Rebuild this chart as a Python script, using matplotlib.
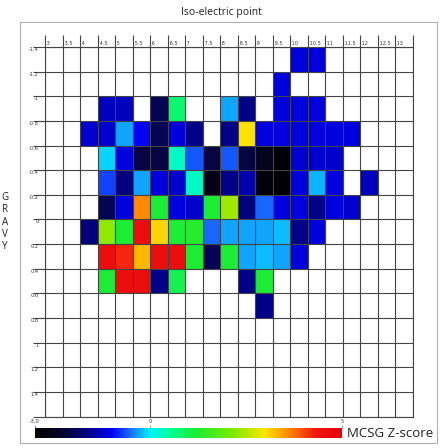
import numpy as np
import matplotlib
matplotlib.use('Agg')
import matplotlib.pyplot as plt
from matplotlib.colors import LinearSegmentedColormap, Normalize
from matplotlib.patches import Rectangle

# ---- data -------------------------------------------------------------
pi_edges = np.arange(3.0, 13.51, 0.5)              # iso-electric point bin edges
gravy_edges = np.round(np.arange(-1.4, 1.61, 0.2), 1)  # GRAVY bin edges
pi_labels = ['3', '3.5', '4', '4.5', '5', '5.5', '6', '6.5', '7', '7.5', '8',
             '8.5', '9', '9.5', '10', '10.5', '11', '11.5', '12', '12.5', '13', '']
gravy_labels = ['-1.4', '-1.2', '-1', '-0.8', '-0.6', '-0.4', '-0.2', '0',
                '0.2', '0.4', '0.6', '0.8', '1', '1.2', '1.4', '']
n = None
# MCSG Z-score per cell (rows: GRAVY bins top->bottom, cols: pI bins left->right)
row_00 = [n, n, n, n, n, n, n, n, n, n, n, n, n, n, -1.1, -1.1, n, n, n, n, n]
row_01 = [n, n, n, n, n, n, n, n, n, n, n, n, n, -1.1, n, n, n, n, n, n, n]
row_02 = [n, n, n, -1.3, -1.3, n, -2.0, 0.8, n, n, -0.3, -1.6, n, -1.1, -1.1, -1.1, n, n, n, n, n]
row_03 = [n, n, -1.2, -1.2, -0.3, -1.0, -2.0, -1.1, -1.6, n, -1.6, 3.0, -1.1, -1.1, -1.1, -1.1, -1.1, -1.1, n, n, n]
row_04 = [n, n, n, -0.1, -1.1, -2.1, -2.1, 0.3, -0.6, -2.1, -0.6, -2.1, -2.5, -2.9, -1.2, -1.2, -1.2, n, n, n, n]
row_05 = [n, n, n, -0.7, -1.7, -0.3, -1.1, -1.2, 0.3, -2.6, -1.6, -1.4, -2.8, -2.9, -1.1, -0.25, -1.1, n, -1.3, n, n]
row_06 = [n, n, n, -2.0, -1.1, 3.6, 1.2, -1.1, -1.2, 1.2, 2.4, -1.7, -0.55, -1.1, -1.1, -1.6, -1.1, -1.2, n, n, n]
row_07 = [n, n, -1.7, 2.3, 1.2, 4.6, 3.1, 1.2, 1.3, -0.55, -0.3, -0.3, -0.3, -0.2, -1.6, -1.1, n, n, n, n, n]
row_08 = [n, n, n, 4.6, 4.2, 3.3, 4.6, 4.6, 1.2, -2.0, 1.2, -0.3, -0.2, -0.3, -1.1, n, n, n, n, n, n]
row_09 = [n, n, n, 1.2, 4.6, 4.6, -1.6, 1.0, n, n, n, -1.6, 1.2, n, n, n, n, n, n, n, n]
row_10 = [n, n, n, n, n, n, n, n, n, n, n, n, -1.6, n, n, n, n, n, n, n, n]
row_11 = [n] * 21
row_12 = [n] * 21
row_13 = [n] * 21
row_14 = [n] * 21
zscore_rows = [row_00, row_01, row_02, row_03, row_04, row_05, row_06, row_07,
               row_08, row_09, row_10, row_11, row_12, row_13, row_14]
z_min, z_max = -3.0, 5.0
cbar_ticks = [-3.0, 0.0, 5.0]
cbar_labels = ['-3,0', '0', '5']

# ---- colormap ----------------------------------------------------------
nodes = [(-3.0, (0.0, 0.0, 0.0)), (-2.3, (0.03, 0.02, 0.16)), (-1.6, (0.0, 0.0, 0.55)),
         (-1.0, (0.0, 0.0, 0.95)), (-0.5, (0.1, 0.45, 1.0)), (0.0, (0.0, 0.95, 1.0)),
         (0.5, (0.0, 1.0, 0.6)), (1.2, (0.1, 0.93, 0.2)), (2.2, (0.5, 0.92, 0.0)),
         (3.0, (1.0, 0.9, 0.0)), (3.6, (1.0, 0.55, 0.0)), (4.3, (0.95, 0.1, 0.05)),
         (5.0, (0.9, 0.0, 0.05))]
cmap = LinearSegmentedColormap.from_list(
    'mcsg', [((v - z_min) / (z_max - z_min), c) for v, c in nodes])
norm = Normalize(z_min, z_max)

Z = np.array([[np.nan if v is None else v for v in r] for r in zscore_rows], dtype=float)
Z = np.ma.masked_invalid(Z)

# ---- figure ------------------------------------------------------------
W, H = 443, 448
fig = plt.figure(figsize=(W / 100, H / 100), dpi=100)
fig.patch.set_facecolor('white')

ax = fig.add_axes([45 / W, 1 - 416.6 / H, 368 / W, 369.6 / H])
ax.pcolormesh(pi_edges, gravy_edges, Z, cmap=cmap, norm=norm, zorder=1)
ax.set_xlim(pi_edges[0], pi_edges[-1])
ax.set_ylim(gravy_edges[-1], gravy_edges[0])
ax.set_xticks(pi_edges)
ax.set_xticklabels([' ' + s for s in pi_labels])
ax.set_yticks(gravy_edges)
ax.set_yticklabels(gravy_labels)
ax.xaxis.tick_top()
gc = '#444444'
ax.tick_params(axis='x', which='major', length=9, width=0.8, color=gc,
               labelsize=3.6, pad=-8.5, labelcolor='#333333')
ax.tick_params(axis='y', which='major', length=9, width=0.8, color=gc,
               labelsize=3.6, pad=-4.5, labelcolor='#333333')
for lbl in ax.get_xticklabels():
    lbl.set_ha('left')
for lbl in ax.get_yticklabels():
    lbl.set_va('top')
ax.grid(True, color=gc, linewidth=0.8, zorder=3)
ax.set_axisbelow(False)
for s in ax.spines.values():
    s.set_color(gc)
    s.set_linewidth(0.8)

# outer frame
fig.add_artist(Rectangle((20 / W, 1 - 443 / H), 417 / W, 421 / H,
                         transform=fig.transFigure, fill=False,
                         edgecolor='#b0b0b0', linewidth=0.8))

fig.text(0.5, 1 - 12 / H, 'Iso-electric point', ha='center', va='center',
         fontsize=7.5, family='Open Sans', color='#222222')
fig.text(5 / W, 1 - 222 / H, 'G\nR\nA\nV\nY', ha='center', va='center',
         fontsize=7, family='Open Sans', linespacing=1.15, color='#222222')

# colorbar
cax = fig.add_axes([35 / W, 1 - 438 / H, 307 / W, 10 / H])
sm = plt.cm.ScalarMappable(norm=norm, cmap=cmap)
cb = fig.colorbar(sm, cax=cax, orientation='horizontal', ticklocation='top')
cb.outline.set_visible(False)
cb.set_ticks(cbar_ticks)
cb.set_ticklabels(cbar_labels)
cax.tick_params(axis='x', length=2, width=0.5, labelsize=3.6, pad=1,
                color='#666666', labelcolor='#333333')
fig.text(347 / W, 1 - 433 / H, 'MCSG Z-score', ha='left', va='center',
         fontsize=9.5, family='Open Sans', color='#222222')

fig.savefig('out.png', dpi=100)
